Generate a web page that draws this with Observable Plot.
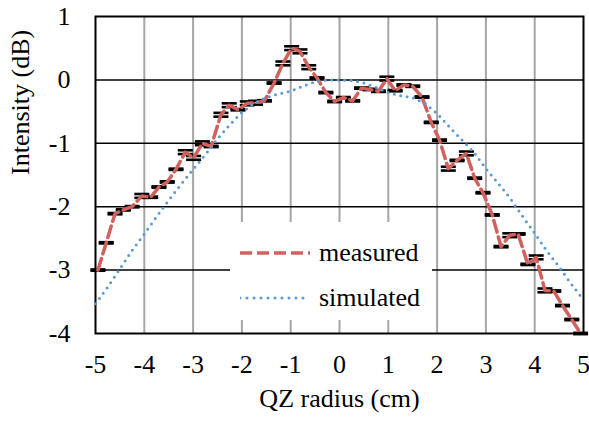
<!DOCTYPE html>
<html>
<head>
<meta charset="utf-8">
<script src="https://cdn.jsdelivr.net/npm/d3@7"></script>
<script src="https://cdn.jsdelivr.net/npm/@observablehq/plot@0.6"></script>
<style>
  html, body { margin: 0; padding: 0; background: white; }
  .lg { font: 26px "Liberation Serif", serif; }
</style>
</head>
<body>
<div id="wrap" style="position: relative; width: 589px; height: 422px;"></div>
<script>
// measured data (x in cm, intensity in dB) and error half-widths
const measX = [-4.95,-4.78,-4.60,-4.43,-4.25,-4.05,-3.87,-3.70,-3.53,-3.35,-3.16,-2.99,-2.81,-2.63,-2.43,-2.26,-2.08,-1.89,-1.72,-1.54,-1.34,-1.16,-0.98,-0.81,-0.63,-0.46,-0.28,-0.10,0.08,0.27,0.45,0.62,0.80,0.97,1.14,1.32,1.50,1.69,1.88,2.05,2.23,2.41,2.60,2.77,2.94,3.13,3.31,3.49,3.66,3.86,4.03,4.21,4.39,4.57,4.76,4.94];
const measY = [-3.00,-2.57,-2.11,-2.05,-2.00,-1.83,-1.85,-1.69,-1.61,-1.41,-1.14,-1.23,-1.00,-1.05,-0.55,-0.40,-0.47,-0.37,-0.36,-0.33,-0.05,0.26,0.50,0.45,0.20,0.03,-0.20,-0.34,-0.28,-0.33,-0.13,-0.15,-0.18,0.02,-0.17,-0.08,-0.10,-0.27,-0.67,-0.95,-1.40,-1.27,-1.16,-1.55,-1.78,-2.13,-2.63,-2.45,-2.43,-2.91,-2.80,-3.32,-3.33,-3.56,-3.78,-4.00];
const measErr = [0.01,0.01,0.01,0.01,0.01,0.03,0.01,0.01,0.01,0.01,0.03,0.03,0.03,0.01,0.03,0.03,0.01,0.03,0.03,0.01,0.01,0.03,0.03,0.03,0.03,0.01,0.01,0.01,0.01,0.01,0.01,0.01,0.01,0.03,0.01,0.01,0.01,0.01,0.01,0.01,0.03,0.01,0.03,0.01,0.01,0.01,0.01,0.03,0.01,0.01,0.03,0.03,0.01,0.01,0.01,0.01];

// simulated curve
const simX = [-5.0,-4.75,-4.5,-4.25,-4.0,-3.75,-3.5,-3.25,-3.0,-2.75,-2.5,-2.25,-2.0,-1.75,-1.5,-1.25,-1.0,-0.75,-0.5,-0.25,0,0.25,0.5,0.75,1.0,1.25,1.5,1.75,2.0,2.25,2.5,2.75,3.0,3.25,3.5,3.75,4.0,4.25,4.5,4.75,5.0];
const simY = [-3.53,-3.27,-2.98,-2.69,-2.43,-2.16,-1.90,-1.65,-1.41,-1.18,-0.93,-0.71,-0.51,-0.37,-0.28,-0.22,-0.18,-0.10,-0.03,0.0,0.0,-0.01,-0.05,-0.12,-0.20,-0.25,-0.28,-0.37,-0.53,-0.74,-0.94,-1.14,-1.40,-1.63,-1.87,-2.15,-2.42,-2.70,-2.95,-3.22,-3.47];

// axes
const xTicks = [-5,-4,-3,-2,-1,0,1,2,3,4,5];
const yTicks = [-4,-3,-2,-1,0,1];
const xGrid = [-4,-3,-2,-1,0,1,2,3,4];
const yGrid = [-3,-2,-1,0];
const xLabel = "QZ radius (cm)";
const yLabel = "Intensity (dB)";
const seriesNames = ["measured", "simulated"];

const RED = "#D0615C";
const BLUE = "#5B9BD5";

const measured = measX.map((x, i) => ({x, y: measY[i], e: measErr[i]}));
const simulated = simX.map((x, i) => ({x, y: simY[i]}));

// horizontal bar symbol for error-bar caps
const hbar = {
  draw(ctx) {
    ctx.moveTo(-7.5, -1.3);
    ctx.lineTo(7.5, -1.3);
    ctx.lineTo(7.5, 1.3);
    ctx.lineTo(-7.5, 1.3);
    ctx.closePath();
  }
};

const chart = Plot.plot({
  width: 589,
  height: 422,
  marginLeft: 95,
  marginRight: 6,
  marginTop: 16,
  marginBottom: 89,
  x: {domain: [-5, 5]},
  y: {domain: [-4, 1]},
  style: {fontFamily: '"Liberation Serif", serif', fontSize: "26px"},
  marks: [
    Plot.ruleX(xGrid, {stroke: "#A5A5A5", strokeWidth: 2}),
    Plot.ruleY(yGrid, {stroke: "black", strokeWidth: 1.5}),
    Plot.frame({stroke: "black", strokeWidth: 2}),
    Plot.axisX({ticks: xTicks, tickSize: 0, tickPadding: 21, tickFormat: d => String(d), label: null}),
    Plot.axisY({ticks: yTicks, tickSize: 0, tickPadding: 25, tickFormat: d => String(d), label: null}),
    Plot.dot(measured, {x: "x", y: d => d.y + d.e, symbol: hbar, fill: "black", stroke: "none"}),
    Plot.dot(measured, {x: "x", y: d => d.y - d.e, symbol: hbar, fill: "black", stroke: "none"}),
    Plot.line(measured, {x: "x", y: "y", stroke: RED, strokeWidth: 3.5, strokeDasharray: "12,5"}),
    Plot.line(simulated, {x: "x", y: "y", stroke: BLUE, strokeWidth: 3, strokeDasharray: "0,6.5", strokeLinecap: "round"}),
    Plot.text([xLabel], {frameAnchor: "bottom", dy: 73}),
    Plot.text([yLabel], {frameAnchor: "left", dx: -75, rotate: -90})
  ]
});

const wrap = document.getElementById("wrap");
wrap.appendChild(chart);

// legend overlay (inside the plot area, as in the reference)
const legend = document.createElement("div");
legend.style.cssText = "position:absolute; left:230px; top:222px; width:202px; height:98px; background:white;";
const styles = [
  {stroke: RED, dash: "12,5", width: 3.5, cap: "butt"},
  {stroke: BLUE, dash: "0,7", width: 3, cap: "round"}
];
seriesNames.forEach((name, i) => {
  const row = document.createElement("div");
  row.className = "lg";
  row.style.cssText += `position:absolute; left:0; top:${i === 0 ? 16 : 61}px; height:30px; display:flex; align-items:center; white-space:nowrap; color:black;`;
  const s = styles[i];
  row.innerHTML = `<svg width="70" height="10" style="margin-left:10px;margin-right:9px"><line x1="0" x2="70" y1="5" y2="5" stroke="${s.stroke}" stroke-width="${s.width}" stroke-dasharray="${s.dash}" stroke-linecap="${s.cap}"/></svg><span>${name}</span>`;
  legend.appendChild(row);
});
wrap.appendChild(legend);
</script>
</body>
</html>
